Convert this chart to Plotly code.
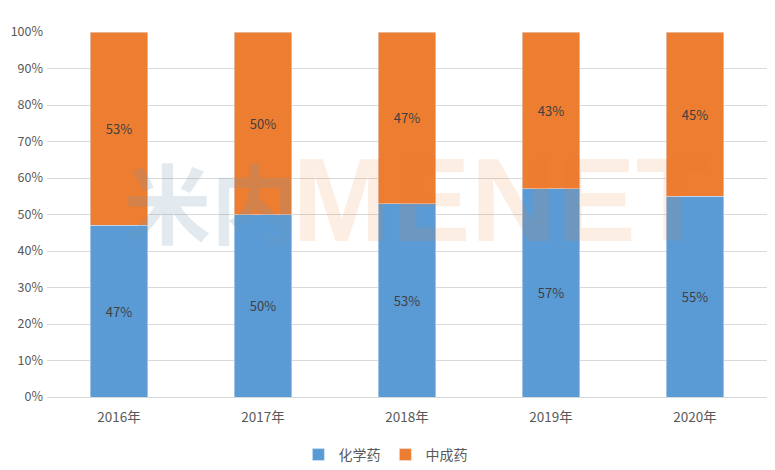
import plotly.graph_objects as go

years = ["2016年", "2017年", "2018年", "2019年", "2020年"]
chem = [47, 50, 53, 57, 55]
tcm = [53, 50, 47, 43, 45]
y_ticks = [0, 10, 20, 30, 40, 50, 60, 70, 80, 90, 100]
y_tick_text = [f"{v}%" for v in y_ticks]

font = "Microsoft YaHei, Noto Sans CJK SC, sans-serif"
fig = go.Figure()
fig.add_trace(go.Bar(name="化学药", x=years, y=chem, marker_color="#5B9BD5",
                     text=[f"{v}%" for v in chem], textposition="inside",
                     insidetextanchor="middle",
                     textfont=dict(color="#404040", size=13, family=font)))
fig.add_trace(go.Bar(name="中成药", x=years, y=tcm, marker_color="#ED7D31",
                     text=[f"{v}%" for v in tcm], textposition="inside",
                     insidetextanchor="middle",
                     textfont=dict(color="#404040", size=13, family=font)))

fig.update_layout(
    barmode="stack", bargap=0.6,
    width=767, height=462,
    margin=dict(l=39, r=8, t=24, b=73, autoexpand=False),
    plot_bgcolor="white", paper_bgcolor="white",
    font=dict(family=font, color="#595959", size=13),
    showlegend=True,
    legend=dict(orientation="h", x=0.47, xanchor="center", y=-0.115, yanchor="top",
                font=dict(size=14, color="#595959"), traceorder="normal",
                itemwidth=30),
    yaxis=dict(range=[0, 100], tickvals=y_ticks, ticktext=y_tick_text,
               gridcolor="#D9D9D9", gridwidth=1, zeroline=False, ticklabelstandoff=3,
               showline=False, ticks="", tickfont=dict(size=12.5, color="#595959")),
    xaxis=dict(showline=True, linecolor="#D9D9D9", ticks="", ticklabelstandoff=8,
               tickfont=dict(size=13.5, color="#595959")),
)

fig.add_annotation(text="<b>米内</b>", xref="paper", yref="paper", x=0.104, y=0.54,
                   xanchor="left", yanchor="middle", showarrow=False,
                   font=dict(size=87, color="rgba(110,150,180,0.2)", family="Noto Sans CJK SC"))
fig.add_annotation(text="<b>MENET</b>", xref="paper", yref="paper", x=0.337, y=0.54,
                   xanchor="left", yanchor="middle", showarrow=False,
                   font=dict(size=119, color="rgba(237,125,49,0.13)", family="Liberation Sans"))

fig.write_html("out.html")
